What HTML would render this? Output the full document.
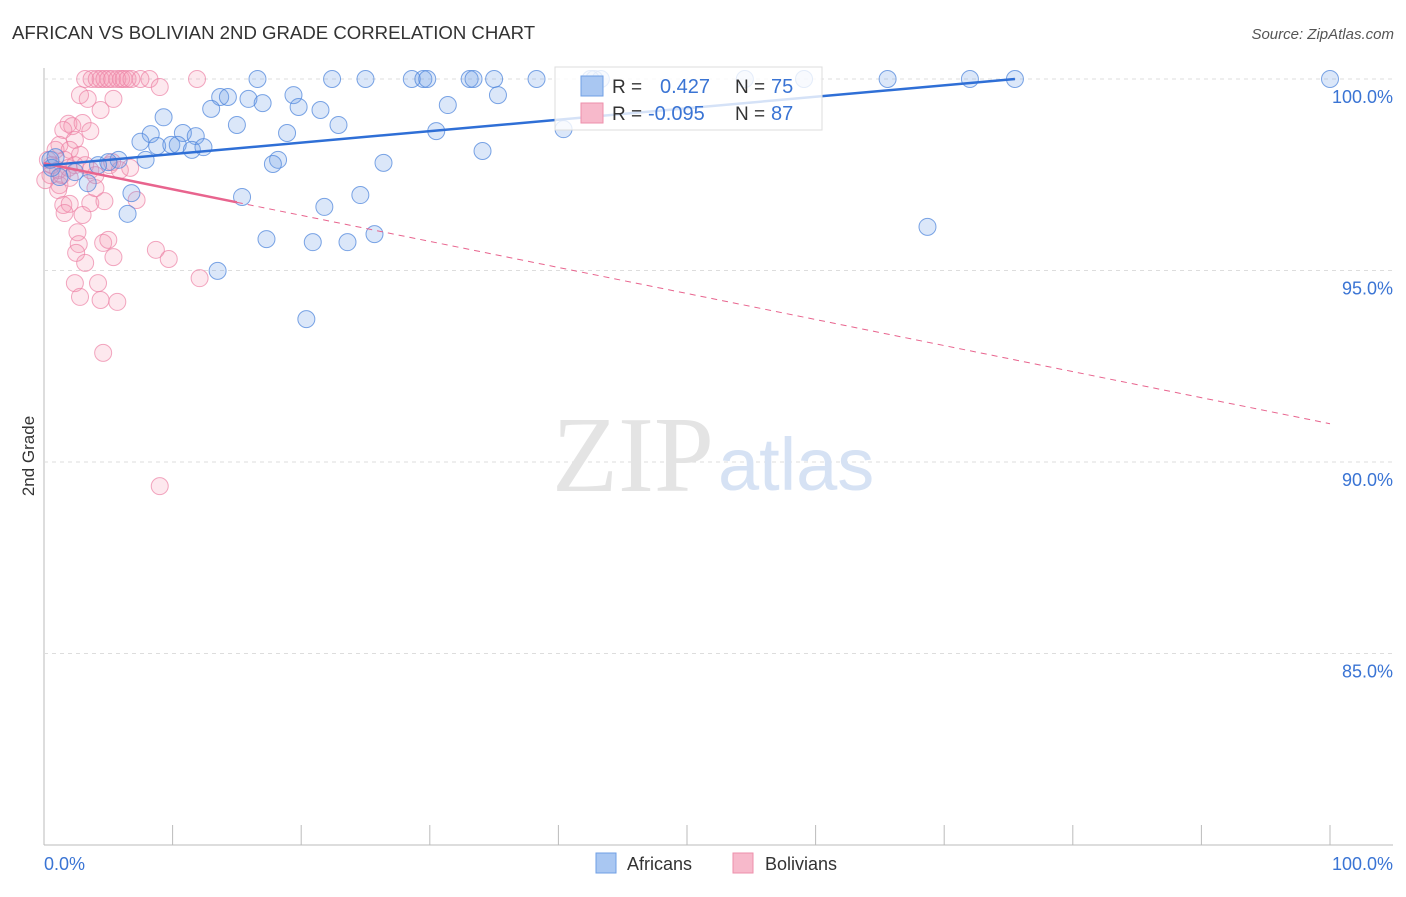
<!DOCTYPE html>
<html><head><meta charset="utf-8"><style>
body{margin:0;background:#fff;font-family:"Liberation Sans",sans-serif;}
svg text{font-family:"Liberation Sans",sans-serif;}
</style></head><body>
<svg id="chart" width="1406" height="892" xmlns="http://www.w3.org/2000/svg">
<text x="12" y="39" font-size="18.6" fill="#333">AFRICAN VS BOLIVIAN 2ND GRADE CORRELATION CHART</text>
<text x="1394" y="39" font-size="15" fill="#555" font-style="italic" text-anchor="end">Source: ZipAtlas.com</text>
<text transform="translate(34,456) rotate(-90)" font-size="17" fill="#333" text-anchor="middle">2nd Grade</text>
<g id="grid"></g>
<text x="714" y="491" font-size="108" fill="#e4e4e4" text-anchor="end" style="font-family:'Liberation Serif',serif">ZIP</text>
<text x="718" y="490" font-size="74" fill="#d6e2f4">atlas</text>
<g id="marks"></g>
<g id="legend">
<rect x="555" y="67" width="267" height="63" fill="#fff" fill-opacity="0.8" stroke="#ddd"/>
<rect x="581" y="76" width="22" height="20" fill="#a9c7f2" stroke="#6f9fe4"/>
<rect x="581" y="103" width="22" height="20" fill="#f7b9cb" stroke="#ee8fab"/>
<text x="612" y="93" font-size="19" fill="#333">R =</text>
<text x="660" y="93" font-size="20" fill="#3a74d4">0.427</text>
<text x="735" y="93" font-size="19" fill="#333">N =</text>
<text x="771" y="93" font-size="20" fill="#3a74d4">75</text>
<text x="612" y="120" font-size="19" fill="#333">R =</text>
<text x="648" y="120" font-size="20" fill="#3a74d4">-0.095</text>
<text x="735" y="120" font-size="19" fill="#333">N =</text>
<text x="771" y="120" font-size="20" fill="#3a74d4">87</text>
</g>
<rect x="596" y="853" width="20" height="20" fill="#a9c7f2" stroke="#6f9fe4"/>
<text x="627" y="870" font-size="18" fill="#333">Africans</text>
<rect x="733" y="853" width="20" height="20" fill="#f7b9cb" stroke="#ee8fab"/>
<text x="765" y="870" font-size="18" fill="#333">Bolivians</text>
</svg>
<script>
const yTicks=[100,95,90,85];
const yTickLabels=["100.0%","95.0%","90.0%","85.0%"];
const xTicks=[0,10,20,30,40,50,60,70,80,90,100];
const xEndLabels=["0.0%","100.0%"];
const africansX=[16.6,22.4,25.0,28.6,29.5,29.8,33.1,33.4,35.0,38.3,42.8,43.3,54.5,59.1,65.6,72.0,75.5,100,42.5,9.3,13.7,14.3,15.9,17.0,13.0,15.0,19.4,19.8,21.5,22.9,31.4,35.3,30.5,18.9,8.3,10.8,11.8,7.5,8.8,9.9,10.4,11.5,12.4,34.1,40.4,7.9,5.8,5.0,4.2,18.2,17.8,26.4,3.4,2.4,1.2,0.5,6.8,6.5,15.4,24.6,21.8,17.3,20.9,23.6,25.7,13.5,20.4,68.7,0.6,0.9];
const africansY=[100,100,100,100,100,100,100,100,100,100,100,100,100,100,100,100,100,100,100,99.0,99.53,99.53,99.48,99.37,99.22,98.8,99.58,99.27,99.19,98.8,99.32,99.58,98.64,98.59,98.56,98.59,98.51,98.36,98.25,98.28,98.28,98.15,98.22,98.12,98.69,97.89,97.89,97.83,97.75,97.89,97.78,97.81,97.28,97.57,97.44,97.89,97.02,96.48,96.92,96.97,96.66,95.82,95.74,95.74,95.95,94.99,93.73,96.14,97.68,97.96];
const boliviansX=[3.2,3.7,4.1,4.4,4.7,5.0,5.3,5.7,6.0,6.2,6.5,6.8,7.5,8.2,11.9,9.0,2.8,3.4,5.4,4.4,1.9,2.2,3.0,1.5,3.6,2.4,1.2,0.9,2.0,2.8,1.6,0.3,0.6,1.1,1.4,1.9,2.4,3.2,3.6,4.0,5.1,5.3,0.5,0.1,1.2,2.0,1.5,2.0,3.6,4.7,7.2,1.6,3.0,2.6,2.7,2.5,3.2,4.6,5.0,5.4,8.7,9.7,2.4,4.2,2.8,4.4,5.7,12.1,4.6,9.0,4.0,1.1,5.9,6.7];
const boliviansY=[100,100,100,100,100,100,100,100,100,100,100,100,100,100,100,99.79,99.58,99.48,99.48,99.19,98.83,98.77,98.85,98.67,98.64,98.41,98.28,98.15,98.15,98.02,97.89,97.89,97.75,97.62,97.49,97.68,97.75,97.75,97.62,97.49,97.75,97.83,97.49,97.36,97.23,97.42,96.71,96.74,96.76,96.81,96.84,96.5,96.45,96.0,95.69,95.46,95.2,95.72,95.8,95.35,95.54,95.3,94.67,94.67,94.31,94.23,94.18,94.8,92.85,89.37,97.15,97.1,97.62,97.68];
const africanTrend=[97.74,100];
const africanTrendX=[0,75.5];
const bolivianTrend=[97.8,91.0];
const bolivianSolidEnd=15;

const NS="http://www.w3.org/2000/svg";
const X0=44,X1=1330,Y0=845,Y100=79;
function sx(v){return X0+(X1-X0)*v/100;}
function sy(v){return Y0-(Y0-Y100)*(v-80)/20;}
function mk(tag,attrs,parent){const e=document.createElementNS(NS,tag);for(const k in attrs)e.setAttribute(k,attrs[k]);parent.appendChild(e);return e;}
const grid=document.getElementById('grid'),marks=document.getElementById('marks');

const ax=mk('line',{x1:X0,y1:68,x2:X0,y2:Y0,stroke:'#bbb'},grid);


const bx=mk('line',{x1:X0,y1:Y0,x2:1393,y2:Y0,stroke:'#bbb'},grid);


yTicks.forEach((t,i)=>{
 const g=mk('line',{x1:X0,y1:sy(t),x2:1393,y2:sy(t),stroke:'#ddd','stroke-dasharray':'4,4'},grid);
 
 
 const l=mk('text',{x:1393,y:sy(t)+24,'font-size':18,fill:'#3a74d4','text-anchor':'end'},grid);
 l.textContent=yTickLabels[i];
 
 
});
xTicks.forEach(t=>{
 const tk=mk('line',{x1:sx(t),y1:Y0,x2:sx(t),y2:Y0-20,stroke:'#bbb'},grid);
 
 
});
const xl0=mk('text',{x:X0,y:870,'font-size':18,fill:'#3a74d4'},grid);xl0.textContent=xEndLabels[0];


const xl1=mk('text',{x:1393,y:870,'font-size':18,fill:'#3a74d4','text-anchor':'end'},grid);xl1.textContent=xEndLabels[1];



boliviansX.forEach((x,i)=>{
 const c=mk('circle',{cx:sx(x),cy:sy(boliviansY[i]),r:8.5,fill:'rgba(244,150,178,0.22)',stroke:'rgba(236,130,165,0.7)','stroke-width':1},marks);
 
 
});
africansX.forEach((x,i)=>{
 const c=mk('circle',{cx:sx(x),cy:sy(africansY[i]),r:8.5,fill:'rgba(110,160,232,0.25)',stroke:'rgba(80,135,220,0.75)','stroke-width':1},marks);
 
 
});
function bolY(x){return bolivianTrend[0]+(bolivianTrend[1]-bolivianTrend[0])*x/100;}
const bd=mk('line',{x1:sx(bolivianSolidEnd),y1:sy(bolY(bolivianSolidEnd)),x2:sx(100),y2:sy(bolY(100)),stroke:'#e8648e','stroke-width':1,'stroke-dasharray':'6,5'},marks);


const bs=mk('line',{x1:sx(0),y1:sy(bolY(0)),x2:sx(bolivianSolidEnd),y2:sy(bolY(bolivianSolidEnd)),stroke:'#e8648e','stroke-width':2.5},marks);


const at=mk('line',{x1:sx(africanTrendX[0]),y1:sy(africanTrend[0]),x2:sx(africanTrendX[1]),y2:sy(africanTrend[1]),stroke:'#2f6fd6','stroke-width':2.5},marks);


</script>
</body></html>
